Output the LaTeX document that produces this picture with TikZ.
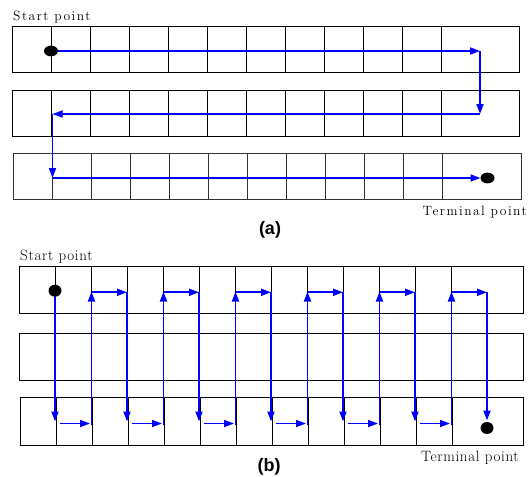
\documentclass[tikz,border=0pt]{standalone}
\usepackage{fontspec}
\newfontfamily\labelsans{Liberation Sans}
\newfontfamily\wideserif{Latin Modern Roman}[LetterSpace=11]
\newfontfamily\narrowserif{Latin Modern Roman}[LetterSpace=4.5]
\usetikzlibrary{arrows.meta}

\tikzset{
  gridline/.style={draw=black, line width=0.9pt},
  route/.style={draw=blue, line width=1.8pt, -{Triangle[length=10pt,width=7pt]}},
  dot/.style={fill=black, draw=none},
  spacedlabel/.style={inner sep=0pt, font=\wideserif\fontsize{13.5}{15}\selectfont},
  plainlabel/.style={inner sep=0pt, font=\narrowserif\fontsize{15}{17}\selectfont},
  caption/.style={inner sep=0pt, font=\labelsans\bfseries\fontsize{18}{20}\selectfont}
}

\begin{document}
\begin{tikzpicture}[x=1pt, y=-1pt]
\useasboundingbox (0,0) rectangle (531,477);

% ---------------- (a): row by row ----------------
\draw[gridline] (12,26.7) rectangle (519,72);
\foreach \k in {0,...,10} \draw[gridline] ({51+39*\k},26.7) -- ({51+39*\k},72);
\draw[gridline] (12,90.7) rectangle (519,136.7);
\foreach \k in {0,...,10} \draw[gridline] ({51+39*\k},90.7) -- ({51+39*\k},136.7);
\draw[gridline, draw=black!80] (13.3,153.3) rectangle (521,199.3);
\foreach \k in {0,...,10} \draw[gridline, draw=black!80] ({52.3+39.05*\k},153.3) -- ({52.3+39.05*\k},199.3);

\node[spacedlabel, anchor=base west] (startA) at (13,20.7) {Start point};
\node[spacedlabel, anchor=base east] (endA) at (527,215) {Terminal point};
\node[caption] (capA) at (270,229.5) {(a)};

\coordinate (a0) at (51,51);
\coordinate (a1) at (480,51);
\coordinate (a2) at (480,114);
\coordinate (a3) at (52.5,114);
\coordinate (a4) at (52.5,178);
\coordinate (a5) at (480.5,178);

\draw[route] (a0) -- (a1);
\draw[route] (a1) -- (a2);
\draw[route] (a2) -- (a3);
\draw[route] (a3) -- (a4);
\draw[route] (a4) -- (a5);
\fill[dot] (a0) ellipse [x radius=7, y radius=5.4];
\fill[dot] (487.5,178) ellipse [x radius=7, y radius=5.4];

% ---------------- (b): column by column ----------------
\draw[gridline] (19,266) rectangle (523.3,313.3);
\foreach \k in {0,...,11} \draw[gridline] ({55+36.06*\k},266) -- ({55+36.06*\k},313.3);
\draw[gridline] (19,333.3) rectangle (523.3,380);
\foreach \xx in {55,91,163.3,235.7,307.7,379.3} \draw[gridline] (\xx,333.3) -- (\xx,380);
\draw[gridline] (20,397.3) rectangle (523,445);
\foreach \k in {0,...,11} \draw[gridline] ({56.2+36*\k},397.3) -- ({56.2+36*\k},445);

\node[plainlabel, anchor=base west] (startB) at (20,260) {Start point};
\node[plainlabel, anchor=base east] (endB) at (519,461) {Terminal point};
\node[caption] (capB) at (269,467) {(b)};

\foreach \k in {0,...,5} {
  \pgfmathsetmacro{\dx}{55+72*\k}
  \coordinate (dt\k) at (\dx,291.5);
  \coordinate (db\k) at (\dx,421.5);
  \coordinate (hs\k) at (\dx+4.5,423.5);
  \coordinate (he\k) at (\dx+35,423.5);
  \coordinate (ub\k) at (\dx+36.5,424.5);
  \coordinate (ut\k) at (\dx+36.5,291.5);
  \coordinate (ts\k) at (\dx+36.5,292.3);
  \coordinate (te\k) at (\dx+72,292.3);
  \draw[route] (dt\k) -- (db\k);
  \draw[route] (hs\k) -- (he\k);
  \draw[route] (ub\k) -- (ut\k);
  \draw[route] (ts\k) -- (te\k);
}
\coordinate (fin0) at (487,292.3);
\coordinate (fin1) at (487,420.5);
\draw[route] (fin0) -- (fin1);
\fill[dot] (55,290.7) ellipse [x radius=6.5, y radius=6];
\fill[dot] (487,428) ellipse [x radius=6.5, y radius=6];
\end{tikzpicture}
\end{document}
